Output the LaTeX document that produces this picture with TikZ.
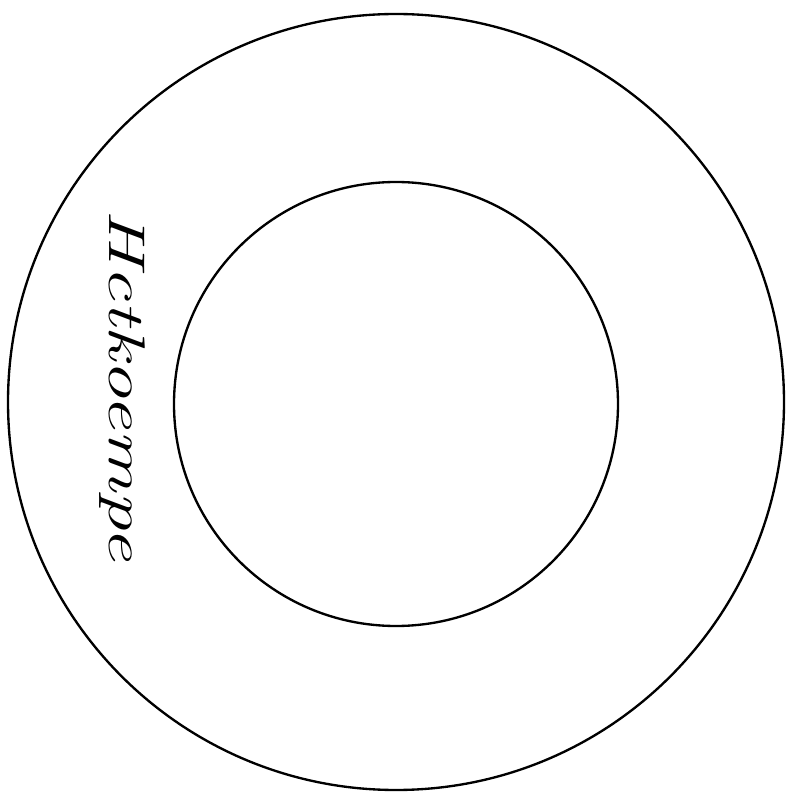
\documentclass[tikz,border=0pt]{standalone}
\usepackage{tikz}
\usetikzlibrary{positioning}

\begin{document}
\begin{tikzpicture}[x=0.03cm, y=-0.03cm, ring/.style={draw, line width=2pt}]
  \useasboundingbox (0,0) rectangle (802,796);

  % Ringe
  \draw[ring] (396,402) circle (388);
  \draw[ring] (396,404) circle (222);

  % Beschriftung
  \node[rotate=-90, xscale=1.5, font=\fontsize{44}{48}\selectfont\itshape] (label) at (122,385) {Hctkoempe};
\end{tikzpicture}
\end{document}
